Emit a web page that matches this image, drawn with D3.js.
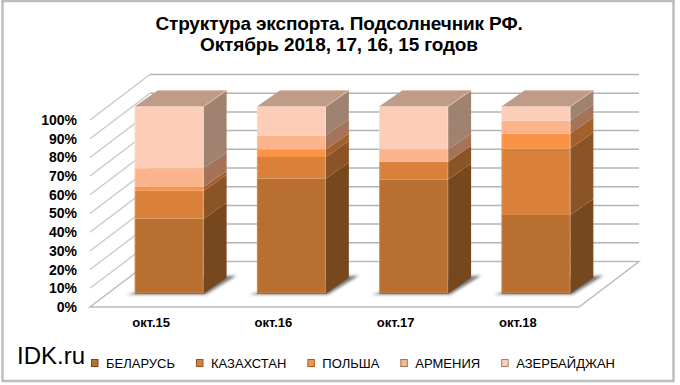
<!DOCTYPE html>
<html>
<head>
<meta charset="utf-8">
<script src="https://cdn.jsdelivr.net/npm/d3@7"></script>
<style>
html,body{margin:0;padding:0;background:#fff}
svg{display:block}
text{font-family:"Liberation Sans",Arial,sans-serif;fill:#000}
</style>
</head>
<body>
<div class="canvas"></div>
<script>
// data
const categories = ['окт.15','окт.16','окт.17','окт.18'];
const seriesNames = ['БЕЛАРУСЬ','КАЗАХСТАН','ПОЛЬША','АРМЕНИЯ','АЗЕРБАЙДЖАН'];
const belarus = [40, 61.5, 61, 42];
const kazakhstan = [15, 11.5, 9.5, 35.5];
const poland = [2, 4, 0, 8];
const armenia = [10, 7.5, 6.5, 7];
const azerbaijan = [33, 15.5, 23, 7.5];
const yTicks = [0,10,20,30,40,50,60,70,80,90,100];
const titleLines = ['Структура экспорта. Подсолнечник РФ.','Октябрь 2018, 17, 16, 15 годов'];

const frontColors = ['#b96f30','#d9803b','#fb9346','#fbb48c','#fdcdb8'];
const sideColors = ['#77481d','#8a5426','#a3602a','#a5735a','#a08270'];
const topColor = '#be9c88';

const svg = d3.select('.canvas')
.append('svg')
.attr('width', 680)
.attr('height', 385);

const defs = svg.append('defs');
defs.append('filter').attr('id','blur')
.attr('x','-30%').attr('y','-60%').attr('width','160%').attr('height','220%')
.append('feGaussianBlur').attr('stdDeviation', 1.8);

// outer frame
svg.append('rect')
.attr('x', 2.5).attr('y', 1)
.attr('width', 671).attr('height', 380)
.attr('fill', '#fff')
.attr('stroke', '#bdbdbd')
.attr('stroke-width', 2.5);

// title
svg.append('g').selectAll('text')
.data(titleLines)
.enter().append('text')
.attr('x', 339)
.attr('y', (d,i) => 30 + i*20.5)
.attr('text-anchor','middle')
.attr('font-weight','bold')
.attr('font-size', 19)
.attr('letter-spacing', -0.14)
.text(d => d);

// scales
const plotLeft = 90, plotRight = 579;
const wallDx = 60, wallDy = 45.5;   // depth of the 3d box
const barDx = 23, barDy = 16;     // depth of one bar
const barShiftX = 18, barShiftY = 13.5;

const y = d3.scaleLinear().domain([0,100]).range([307,120]);
const x = d3.scaleBand()
.domain(categories)
.range([plotLeft, plotRight])
.paddingInner(0.436)
.paddingOuter(0.218);

const box = svg.append('g');
const line = d3.line();

// floor
box.append('path')
.attr('d', line([[plotLeft,y(0)],[plotRight,y(0)],[plotRight+wallDx,y(0)-wallDy],[plotLeft+wallDx,y(0)-wallDy]]) + 'Z')
.attr('fill','#fff')
.attr('stroke','#bcbcbc')
.attr('stroke-width',1.5);

// side wall and back wall gridlines
box.selectAll('.side').data(yTicks.slice(1)).enter().append('path')
.attr('d', d => line([[plotLeft,y(d)],[plotLeft+wallDx,y(d)-wallDy]]))
.attr('fill','none').attr('stroke','#c6c6c6').attr('stroke-width',1.2);
box.selectAll('.back').data(yTicks.slice(1)).enter().append('path')
.attr('d', d => line([[plotLeft+wallDx,y(d)-wallDy],[plotRight+wallDx,y(d)-wallDy]]))
.attr('fill','none').attr('stroke','#b4b4b4').attr('stroke-width',1.5);

// axes
const yAxis = d3.axisLeft(y).tickValues(yTicks).tickSize(0).tickPadding(0).tickFormat(d => d + '%');
const xAxis = d3.axisBottom(x).tickSize(0).tickPadding(0);
const yAxisGroup = svg.append('g').attr('transform', `translate(77,0)`).call(yAxis);
yAxisGroup.select('.domain').remove();
yAxisGroup.selectAll('text').attr('font-size',14).attr('font-weight','bold').attr('font-family','"Liberation Sans"').attr('fill','#000');
const xAxisGroup = svg.append('g').attr('transform', `translate(0,318)`).call(xAxis);
xAxisGroup.select('.domain').remove();
xAxisGroup.selectAll('text').attr('font-size',13).attr('font-weight','bold').attr('font-family','"Liberation Sans"').attr('fill','#000');

// stacked bars
const rows = categories.map((c,i) => ({cat:c, v:[belarus[i],kazakhstan[i],poland[i],armenia[i],azerbaijan[i]]}));
const bars = svg.append('g').attr('transform', `translate(${barShiftX},${-barShiftY})`);
const bw = x.bandwidth();

// shadows on the floor
bars.selectAll('.shadow').data(rows).enter().append('path')
.attr('d', d => {
  const l = x(d.cat), b = y(0);
  return line([[l-8,b+1],[l+bw+2,b+1],[l+bw+barDx+10,b-barDy-2],[l+bw,b-barDy]]) + 'Z';
})
.attr('fill','#777')
.attr('filter','url(#blur)');

rows.forEach(r => {
  const g = bars.append('g');
  const l = x(r.cat);
  let sum = 0;
  r.v.forEach((v,i) => {
    const b = y(sum), t = y(sum + v);
    sum += v;
    if (v === 0) return;
    g.append('path')
    .attr('d', line([[l+bw,b],[l+bw+barDx,b-barDy],[l+bw+barDx,t-barDy],[l+bw,t]]) + 'Z')
    .attr('fill', sideColors[i]);
    g.append('rect')
    .attr('x', l).attr('y', t)
    .attr('width', bw).attr('height', b - t)
    .attr('fill', frontColors[i]);
  });
  g.append('path')
  .attr('d', line([[l,y(100)],[l+bw,y(100)],[l+bw+barDx,y(100)-barDy],[l+barDx,y(100)-barDy]]) + 'Z')
  .attr('fill', topColor);
  // soft edges: light on the top face, darker along the foot of the bar
  g.append('path')
  .attr('d', line([[l+bw,y(100)],[l+bw+barDx,y(100)-barDy],[l+barDx,y(100)-barDy]]))
  .attr('fill','none').attr('stroke','#e2c0ac').attr('stroke-width',1);
  g.append('rect')
  .attr('x', l+0.5).attr('y', y(100)+0.5)
  .attr('width', bw-1).attr('height', y(0)-y(100)-1)
  .attr('fill','none').attr('stroke','#fff').attr('stroke-opacity',0.2);
  g.append('path')
  .attr('d', line([[l,y(0)],[l+bw,y(0)],[l+bw+barDx,y(0)-barDy]]))
  .attr('fill','none').attr('stroke','#6b5138').attr('stroke-opacity',0.55).attr('stroke-width',1);
});

// watermark
svg.append('text')
.attr('x', 17).attr('y', 364)
.attr('font-size', 24)
.text('IDK.ru');

// legend
const legend = svg.append('g');
let cursor = 91;
seriesNames.forEach((name,i) => {
  legend.append('rect')
  .attr('x', cursor+0.5).attr('y', 359.5)
  .attr('width', 6.5).attr('height', 7)
  .attr('fill', frontColors[i])
  .attr('stroke', sideColors[i]);
  const t = legend.append('text')
  .attr('x', cursor + 15).attr('y', 367.5)
  .attr('font-size', 13)
  .text(name);
  cursor += 15 + t.node().getComputedTextLength() + 21;
});
</script>
</body>
</html>
